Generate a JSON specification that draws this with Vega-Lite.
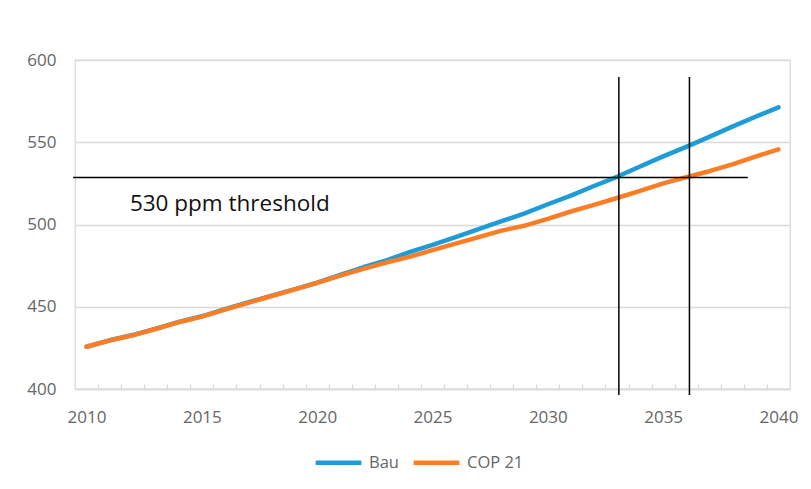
{
  "$schema": "https://vega.github.io/schema/vega-lite/v6.json",
  "width": 715,
  "height": 329,
  "autosize": {"type": "none"},
  "padding": {"left": 75, "top": 60, "right": 21, "bottom": 100},
  "background": "white",
  "config": {
    "font": "Open Sans",
    "view": {"stroke": "#d9d9d9", "strokeWidth": 1.3}
  },
  "datasets": {
    "series": [
      {"year": 2010, "series": "Bau", "value": 425.7},
      {"year": 2011, "series": "Bau", "value": 429.6},
      {"year": 2012, "series": "Bau", "value": 432.8},
      {"year": 2013, "series": "Bau", "value": 436.7},
      {"year": 2014, "series": "Bau", "value": 440.8},
      {"year": 2015, "series": "Bau", "value": 444.2},
      {"year": 2016, "series": "Bau", "value": 448.5},
      {"year": 2017, "series": "Bau", "value": 452.6},
      {"year": 2018, "series": "Bau", "value": 456.6},
      {"year": 2019, "series": "Bau", "value": 460.6},
      {"year": 2020, "series": "Bau", "value": 464.6},
      {"year": 2021, "series": "Bau", "value": 469.3},
      {"year": 2022, "series": "Bau", "value": 474.0},
      {"year": 2023, "series": "Bau", "value": 478.2},
      {"year": 2024, "series": "Bau", "value": 483.2},
      {"year": 2025, "series": "Bau", "value": 487.6},
      {"year": 2026, "series": "Bau", "value": 492.3},
      {"year": 2027, "series": "Bau", "value": 497.2},
      {"year": 2028, "series": "Bau", "value": 502.0},
      {"year": 2029, "series": "Bau", "value": 506.8},
      {"year": 2030, "series": "Bau", "value": 512.3},
      {"year": 2031, "series": "Bau", "value": 517.6},
      {"year": 2032, "series": "Bau", "value": 523.4},
      {"year": 2033, "series": "Bau", "value": 529.0},
      {"year": 2034, "series": "Bau", "value": 535.3},
      {"year": 2035, "series": "Bau", "value": 541.4},
      {"year": 2036, "series": "Bau", "value": 547.2},
      {"year": 2037, "series": "Bau", "value": 553.3},
      {"year": 2038, "series": "Bau", "value": 559.5},
      {"year": 2039, "series": "Bau", "value": 565.5},
      {"year": 2040, "series": "Bau", "value": 571.2},
      {"year": 2010, "series": "COP 21", "value": 425.7},
      {"year": 2011, "series": "COP 21", "value": 429.5},
      {"year": 2012, "series": "COP 21", "value": 432.6},
      {"year": 2013, "series": "COP 21", "value": 436.5},
      {"year": 2014, "series": "COP 21", "value": 440.6},
      {"year": 2015, "series": "COP 21", "value": 444.0},
      {"year": 2016, "series": "COP 21", "value": 448.3},
      {"year": 2017, "series": "COP 21", "value": 452.4},
      {"year": 2018, "series": "COP 21", "value": 456.4},
      {"year": 2019, "series": "COP 21", "value": 460.4},
      {"year": 2020, "series": "COP 21", "value": 464.5},
      {"year": 2021, "series": "COP 21", "value": 468.9},
      {"year": 2022, "series": "COP 21", "value": 473.0},
      {"year": 2023, "series": "COP 21", "value": 476.9},
      {"year": 2024, "series": "COP 21", "value": 480.3},
      {"year": 2025, "series": "COP 21", "value": 484.4},
      {"year": 2026, "series": "COP 21", "value": 488.4},
      {"year": 2027, "series": "COP 21", "value": 492.3},
      {"year": 2028, "series": "COP 21", "value": 496.3},
      {"year": 2029, "series": "COP 21", "value": 499.3},
      {"year": 2030, "series": "COP 21", "value": 503.4},
      {"year": 2031, "series": "COP 21", "value": 507.9},
      {"year": 2032, "series": "COP 21", "value": 511.9},
      {"year": 2033, "series": "COP 21", "value": 516.1},
      {"year": 2034, "series": "COP 21", "value": 520.4},
      {"year": 2035, "series": "COP 21", "value": 525.0},
      {"year": 2036, "series": "COP 21", "value": 528.7},
      {"year": 2037, "series": "COP 21", "value": 532.4},
      {"year": 2038, "series": "COP 21", "value": 536.6},
      {"year": 2039, "series": "COP 21", "value": 541.3},
      {"year": 2040, "series": "COP 21", "value": 545.7}
    ],
    "vlines": [
      {"x": 2033.08, "y": 589.7, "y2": 396.4},
      {"x": 2036.14, "y": 589.7, "y2": 396.4}
    ],
    "hline": [
      {"x": 2009.42, "x2": 2038.67, "y": 528.5}
    ],
    "label": [
      {"x": 2011.88, "y": 508.4, "text": "530 ppm threshold"}
    ]
  },
  "resolve": {"axis": {"x": "independent"}},
  "layer": [
    {
      "data": {"name": "series"},
      "mark": {"type": "line", "strokeWidth": 4.5, "strokeCap": "round", "strokeJoin": "round"},
      "encoding": {
        "x": {
          "field": "year",
          "type": "quantitative",
          "scale": {"domain": [2009.5, 2040.5], "nice": false, "zero": false},
          "axis": {
            "orient": "bottom",
            "title": null,
            "values": [2010, 2015, 2020, 2025, 2030, 2035, 2040],
            "format": "d",
            "grid": false,
            "ticks": false,
            "domainColor": "#d9d9d9",
            "domainWidth": 1.3,
            "labelColor": "#666666",
            "labelFontSize": 17,
            "labelPadding": 20,
            "labelFlush": false,
            "labelOverlap": false
          }
        },
        "y": {
          "field": "value",
          "type": "quantitative",
          "scale": {"domain": [400, 600], "nice": false, "zero": false},
          "axis": {
            "title": null,
            "values": [400, 450, 500, 550, 600],
            "grid": true,
            "gridColor": "#d9d9d9",
            "gridWidth": 1.3,
            "domain": false,
            "ticks": false,
            "labelColor": "#666666",
            "labelFontSize": 17,
            "labelPadding": 19
          }
        },
        "color": {
          "field": "series",
          "type": "nominal",
          "scale": {"domain": ["Bau", "COP 21"], "range": ["#1f9bd7", "#fb7e26"]},
          "legend": {
            "title": null,
            "orient": "none",
            "legendX": 238,
            "legendY": 377,
            "direction": "horizontal",
            "symbolType": "stroke",
            "symbolSize": 2100,
            "symbolStrokeWidth": 4.5,
            "labelFontSize": 16.5,
            "labelColor": "#666666",
            "labelOffset": 5,
            "columnPadding": 5
          }
        }
      }
    },
    {
      "data": {"name": "vlines"},
      "mark": {"type": "rule", "color": "#000000", "strokeWidth": 1.5},
      "encoding": {
        "x": {
          "field": "x",
          "type": "quantitative",
          "axis": {
            "orient": "bottom",
            "title": null,
            "values": [2010.5, 2011.5, 2012.5, 2013.5, 2014.5, 2015.5, 2016.5, 2017.5, 2018.5, 2019.5, 2020.5, 2021.5, 2022.5, 2023.5, 2024.5, 2025.5, 2026.5, 2027.5, 2028.5, 2029.5, 2030.5, 2031.5, 2032.5, 2033.5, 2034.5, 2035.5, 2036.5, 2037.5, 2038.5, 2039.5],
            "labels": false,
            "domain": false,
            "grid": false,
            "ticks": true,
            "tickSize": -5,
            "tickColor": "#d9d9d9",
            "tickWidth": 1.3
          }
        },
        "y": {"field": "y", "type": "quantitative"},
        "y2": {"field": "y2"}
      }
    },
    {
      "data": {"name": "hline"},
      "mark": {"type": "rule", "color": "#000000", "strokeWidth": 1.5},
      "encoding": {
        "x": {"field": "x", "type": "quantitative", "axis": null},
        "x2": {"field": "x2"},
        "y": {"field": "y", "type": "quantitative"}
      }
    },
    {
      "data": {"name": "label"},
      "mark": {"type": "text", "align": "left", "baseline": "alphabetic", "fontSize": 22.5, "color": "#111111", "font": "Open Sans"},
      "encoding": {
        "x": {"field": "x", "type": "quantitative", "axis": null},
        "y": {"field": "y", "type": "quantitative"},
        "text": {"field": "text"}
      }
    }
  ]
}
